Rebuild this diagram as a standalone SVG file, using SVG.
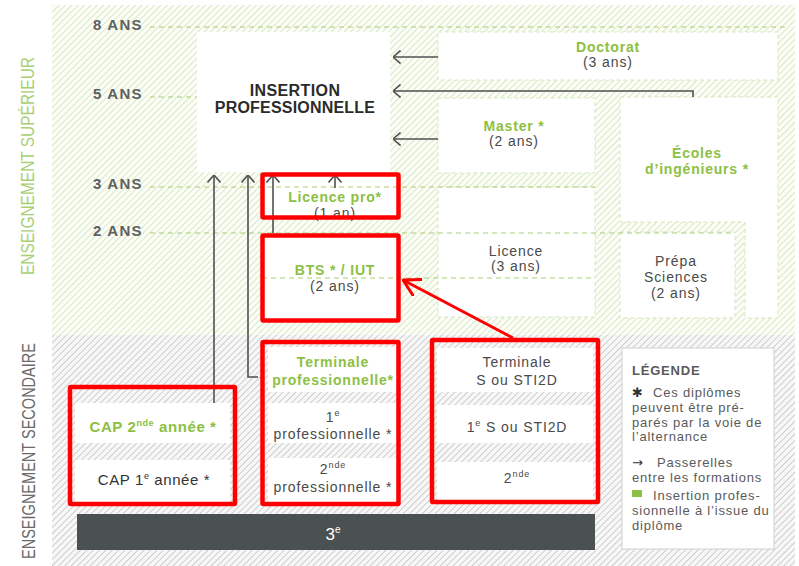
<svg xmlns="http://www.w3.org/2000/svg" width="799" height="566" viewBox="0 0 799 566">
  <defs>
    <style>
      text { font-family: "Liberation Sans", Arial, sans-serif; }
      .yr { font-size: 15px; font-weight: bold; fill: #606060; letter-spacing: 1.2px; }
      .g { font-size: 14px; font-weight: bold; fill: #8cc043; letter-spacing: 0.8px; text-anchor: middle; }
      .t { font-size: 14px; fill: #4a4a4a; letter-spacing: 0.9px; text-anchor: middle; }
      .sup { font-size: 9px; }
      .leg { font-size: 13px; fill: #5a5a5a; letter-spacing: 0.8px; }
      .cell { fill: #ffffff; }
      .box { fill: #ffffff; stroke: #d6e7bd; stroke-width: 1; stroke-dasharray: 4 3; }
      .yline { fill: none; stroke: #a8cf72; stroke-width: 1.2; stroke-dasharray: 5 4; }
      .hl { fill: none; stroke: #ff0000; stroke-width: 4.5; }
      .up { fill: none; stroke: #505050; stroke-width: 1.6; marker-end: url(#chev); }
    </style>
    <pattern id="hatchG" patternUnits="userSpaceOnUse" width="4.5" height="4.5" patternTransform="rotate(45)">
      <rect width="4.5" height="4.5" fill="#fbfdf7"/>
      <line x1="0" y1="0" x2="0" y2="4.5" stroke="#c9dcab" stroke-width="1.3"/>
    </pattern>
    <pattern id="hatchK" patternUnits="userSpaceOnUse" width="4.5" height="4.5" patternTransform="rotate(45)">
      <rect width="4.5" height="4.5" fill="#f7f7f7"/>
      <line x1="0" y1="0" x2="0" y2="4.5" stroke="#b9b9b9" stroke-width="1.3"/>
    </pattern>
    <marker id="chev" viewBox="0 0 8 14" refX="7.5" refY="7" markerWidth="8" markerHeight="14" markerUnits="userSpaceOnUse" orient="auto">
      <path d="M0,0.5 L7.5,7 L0,13.5" fill="none" stroke="#505050" stroke-width="1.6"/>
    </marker>
    <marker id="redhead" viewBox="0 0 18 20" refX="17" refY="10" markerWidth="18" markerHeight="20" markerUnits="userSpaceOnUse" orient="auto">
      <path d="M0,0.5 L17,10 L0,19.5" fill="none" stroke="#ff0000" stroke-width="3"/>
    </marker>
  </defs>

  <!-- background bands -->
  <rect width="799" height="566" fill="#ffffff"/>
  <rect x="52" y="5" width="743" height="330" fill="url(#hatchG)"/>
  <rect x="52" y="335" width="743" height="231" fill="url(#hatchK)"/>

  <!-- side titles -->
  <text transform="translate(34,166) rotate(-90)" text-anchor="middle" font-size="18" fill="#a9cf74" textLength="218" lengthAdjust="spacingAndGlyphs">ENSEIGNEMENT SUPÉRIEUR</text>
  <text transform="translate(35,451) rotate(-90)" text-anchor="middle" font-size="18" fill="#6a6a6a" textLength="216" lengthAdjust="spacingAndGlyphs">ENSEIGNEMENT SECONDAIRE</text>

  <!-- year scale -->
  <g id="scale">
    <text class="yr" x="93" y="30">8 ANS</text>
    <text class="yr" x="93" y="99">5 ANS</text>
    <text class="yr" x="93" y="189">3 ANS</text>
    <text class="yr" x="93" y="236">2 ANS</text>
    <line class="yline" x1="150" y1="27" x2="785" y2="27"/>
    <line class="yline" x1="150" y1="97" x2="197" y2="97"/>
  </g>

  <!-- higher education -->
  <g id="insertion">
    <rect x="197" y="32" width="193" height="140" fill="#ffffff"/>
    <text x="295" y="96" text-anchor="middle" font-size="16" font-weight="bold" fill="#2b2b2b" letter-spacing="0.4">INSERTION</text>
    <text x="295" y="113" text-anchor="middle" font-size="16" font-weight="bold" fill="#2b2b2b" letter-spacing="0.2">PROFESSIONNELLE</text>
  </g>
  <g id="doctorat">
    <rect class="box" x="438" y="32" width="340" height="48"/>
    <text class="g" x="608" y="52">Doctorat</text>
    <text class="t" x="608" y="67">(3 ans)</text>
  </g>
  <g id="master">
    <rect class="box" x="438" y="98" width="157" height="75"/>
    <text class="g" x="514" y="131">Master *</text>
    <text class="t" x="514" y="146">(2 ans)</text>
  </g>
  <g id="ecoles">
    <path class="box" d="M620,97 H778 V318 H745 V222 H620 Z"/>
    <text class="g" x="697" y="158">Écoles</text>
    <text class="g" x="697" y="174">d’ingénieurs *</text>
  </g>
  <g id="licence">
    <rect class="box" x="438" y="187" width="157" height="130"/>
    <text class="t" x="516" y="256">Licence</text>
    <text class="t" x="516" y="271">(3 ans)</text>
  </g>
  <g id="prepa">
    <rect class="box" x="620" y="232" width="115" height="86"/>
    <text class="t" x="676" y="266">Prépa</text>
    <text class="t" x="676" y="282">Sciences</text>
    <text class="t" x="676" y="298">(2 ans)</text>
  </g>
  <g id="licence-pro">
    <rect x="262" y="172" width="138" height="48" fill="#ffffff"/>
    <text class="g" x="335" y="202">Licence pro*</text>
    <text class="t" x="335" y="218">(1 an)</text>
  </g>
  <g id="bts">
    <rect x="262" y="233" width="138" height="89" fill="#ffffff"/>
    <text class="g" x="335" y="275">BTS * / IUT</text>
    <text class="t" x="335" y="291">(2 ans)</text>
  </g>

  <!-- year lines drawn across the boxes -->
  <g id="year-lines">
    <line class="yline" x1="150" y1="187" x2="595" y2="187"/>
    <line class="yline" x1="150" y1="233" x2="735" y2="233"/>
    <line class="yline" x1="262" y1="278" x2="595" y2="278"/>
  </g>

  <!-- secondary education -->
  <g id="cap">
    <rect class="cell" x="75" y="403" width="155" height="40"/>
    <rect class="cell" x="75" y="460" width="155" height="42"/>
    <text x="153" y="432" text-anchor="middle" font-size="15" font-weight="bold" fill="#8cc043" letter-spacing="0.6">CAP 2<tspan class="sup" dy="-6">nde</tspan><tspan dy="6"> année *</tspan></text>
    <text x="154" y="485" text-anchor="middle" font-size="15" fill="#333333" letter-spacing="0.6">CAP 1<tspan class="sup" dy="-6">e</tspan><tspan dy="6"> année *</tspan></text>
  </g>
  <g id="bac-pro">
    <rect class="cell" x="268" y="347" width="128" height="45"/>
    <rect class="cell" x="268" y="403" width="128" height="40"/>
    <rect class="cell" x="268" y="458" width="128" height="44"/>
    <text class="g" x="333" y="367">Terminale</text>
    <text class="g" x="333" y="385">professionnelle*</text>
    <text class="t" x="333" y="422">1<tspan class="sup" dy="-6">e</tspan></text>
    <text class="t" x="333" y="439">professionnelle *</text>
    <text class="t" x="333" y="474">2<tspan class="sup" dy="-6">nde</tspan></text>
    <text class="t" x="333" y="492">professionnelle *</text>
  </g>
  <g id="bac-s">
    <rect class="cell" x="437" y="348" width="156" height="44"/>
    <rect class="cell" x="437" y="405" width="156" height="38"/>
    <rect class="cell" x="437" y="462" width="156" height="38"/>
    <text class="t" x="517" y="367">Terminale</text>
    <text class="t" x="517" y="385">S ou STI2D</text>
    <text class="t" x="517" y="432">1<tspan class="sup" dy="-6">e</tspan><tspan dy="6"> S ou STI2D</tspan></text>
    <text class="t" x="517" y="483">2<tspan class="sup" dy="-6">nde</tspan></text>
  </g>
  <g id="troisieme">
    <rect x="77" y="514" width="518" height="36" fill="#4b5050"/>
    <text x="333" y="540" text-anchor="middle" font-size="17" fill="#ffffff">3<tspan font-size="10" dy="-7">e</tspan></text>
  </g>

  <!-- legend -->
  <g id="legende">
    <rect x="622" y="348" width="152" height="201" fill="#ffffff" stroke="#d0d0d0" stroke-width="1"/>
    <text class="leg" x="632" y="375" font-weight="bold" fill="#4a4a4a" letter-spacing="0.5">LÉGENDE</text>
    <text class="leg" x="632" y="397"><tspan font-family="DejaVu Sans, sans-serif" fill="#333">✱</tspan><tspan x="653">Ces diplômes</tspan></text>
    <text class="leg" x="632" y="412">peuvent être pré-</text>
    <text class="leg" x="632" y="427">parés par la voie de</text>
    <text class="leg" x="632" y="441">l’alternance</text>
    <text class="leg" x="632" y="467"><tspan font-family="DejaVu Sans, sans-serif" fill="#333">→</tspan><tspan x="657">Passerelles</tspan></text>
    <text class="leg" x="632" y="482">entre les formations</text>
    <rect x="632" y="490" width="10" height="7" fill="#8cc043"/>
    <text class="leg" x="653" y="500">Insertion profes-</text>
    <text class="leg" x="632" y="515">sionnelle à l’issue du</text>
    <text class="leg" x="632" y="530">diplôme</text>
  </g>

  <!-- connectors -->
  <g id="connectors">
    <line class="up" x1="214" y1="403" x2="214" y2="175"/>
    <path class="up" d="M258,377 H248 V175"/>
    <line class="up" x1="273" y1="233" x2="273" y2="175"/>
    <line class="up" x1="335" y1="188" x2="335" y2="175"/>
    <line class="up" x1="438" y1="57" x2="393" y2="57"/>
    <path class="up" d="M693,97 V91 H393"/>
    <line class="up" x1="438" y1="139" x2="393" y2="139"/>
    <line x1="513" y1="338" x2="403" y2="280" stroke="#ff0000" stroke-width="3" marker-end="url(#redhead)"/>
  </g>

  <!-- highlight frames -->
  <g id="highlights">
    <rect class="hl" x="262.5" y="174.5" width="136" height="43" rx="1"/>
    <rect class="hl" x="262.5" y="235.5" width="136" height="85" rx="1"/>
    <rect class="hl" x="70" y="387" width="165" height="117" rx="1"/>
    <rect class="hl" x="262.5" y="342" width="136" height="162" rx="1"/>
    <rect class="hl" x="432" y="340" width="166" height="162" rx="1"/>
  </g>
</svg>
